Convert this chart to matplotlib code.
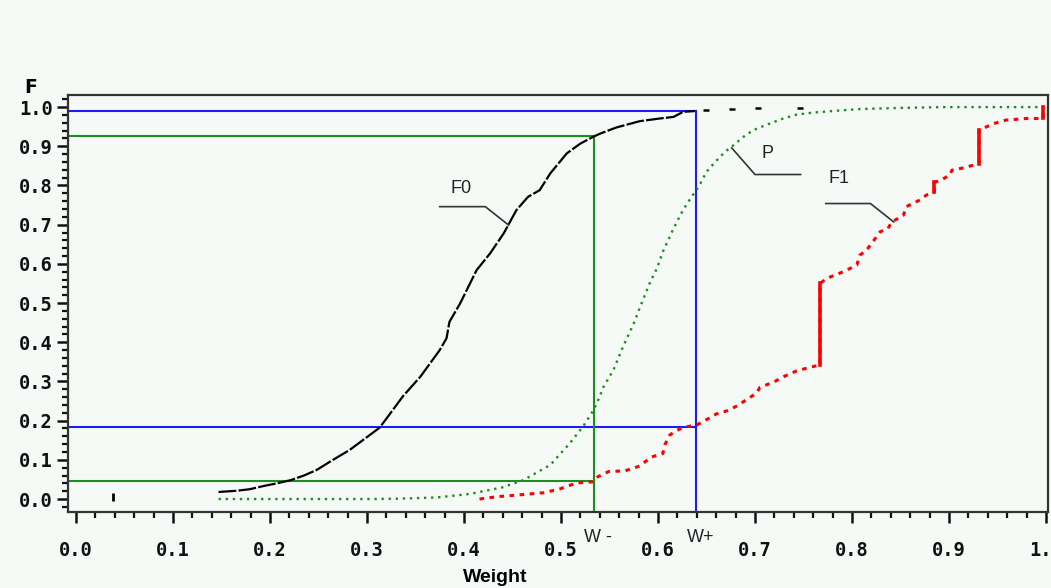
import numpy as np
import matplotlib
matplotlib.use("Agg")
import matplotlib.pyplot as plt
from matplotlib.ticker import MultipleLocator

# ---------------- data ----------------
F0_x = [0.147, 0.165, 0.179, 0.193, 0.207, 0.221, 0.235, 0.248, 0.265, 0.282, 0.300,
        0.313, 0.320, 0.337, 0.355, 0.375, 0.382, 0.385, 0.396, 0.413, 0.427, 0.441,
        0.454, 0.466, 0.478, 0.489, 0.506, 0.520, 0.533, 0.540, 0.557, 0.581, 0.602,
        0.616, 0.626, 0.638]
F0_y = [0.018, 0.021, 0.025, 0.033, 0.040, 0.048, 0.060, 0.074, 0.100, 0.125, 0.158,
        0.182, 0.205, 0.262, 0.312, 0.380, 0.410, 0.452, 0.499, 0.584, 0.627, 0.678,
        0.737, 0.771, 0.788, 0.831, 0.882, 0.907, 0.924, 0.932, 0.948, 0.964, 0.971,
        0.975, 0.988, 0.990]
F0_tail_x = [0.650, 0.676, 0.703, 0.746]
F0_tail_y = [0.992, 0.995, 0.998, 0.998]
stray_x = [0.038]
stray_y = [0.006]

P_x = [0.147, 0.20, 0.25, 0.30, 0.334, 0.372, 0.406, 0.440, 0.461, 0.489, 0.509, 0.523,
       0.533, 0.537, 0.544, 0.554, 0.564, 0.575, 0.583, 0.592, 0.599, 0.605, 0.616,
       0.624, 0.630, 0.636, 0.642, 0.650, 0.659, 0.669, 0.676, 0.688, 0.698, 0.712,
       0.728, 0.743, 0.760, 0.785, 0.808, 0.85, 0.894, 0.94, 0.98, 1.0]
P_y = [0.0, 0.0, 0.0, 0.0, 0.001, 0.004, 0.013, 0.030, 0.048, 0.087, 0.142, 0.186,
       0.225, 0.244, 0.287, 0.329, 0.389, 0.448, 0.499, 0.554, 0.589, 0.631, 0.690,
       0.729, 0.754, 0.776, 0.797, 0.835, 0.860, 0.886, 0.899, 0.924, 0.941, 0.955,
       0.970, 0.981, 0.986, 0.991, 0.995, 0.998, 1.0, 1.0, 1.0, 1.0]

F1_x = [0.416, 0.434, 0.454, 0.482, 0.499, 0.516, 0.533, 0.538, 0.549, 0.566, 0.581,
        0.593, 0.605, 0.607, 0.612, 0.618, 0.626, 0.640, 0.654, 0.660, 0.671, 0.681,
        0.691, 0.702, 0.705, 0.719, 0.731, 0.743, 0.758, 0.767, 0.767, 0.774, 0.791,
        0.805, 0.808, 0.815, 0.824, 0.829, 0.837, 0.841, 0.853, 0.856, 0.870, 0.877,
        0.885, 0.885, 0.892, 0.901, 0.903, 0.915, 0.931, 0.931, 0.946, 0.959, 0.980,
        0.997, 0.997]
F1_y = [0.000, 0.006, 0.010, 0.016, 0.026, 0.041, 0.044, 0.057, 0.070, 0.072, 0.084,
        0.107, 0.116, 0.138, 0.163, 0.173, 0.183, 0.189, 0.208, 0.217, 0.225, 0.237,
        0.253, 0.271, 0.285, 0.298, 0.314, 0.327, 0.337, 0.342, 0.550, 0.563, 0.580,
        0.597, 0.622, 0.635, 0.665, 0.682, 0.690, 0.707, 0.724, 0.746, 0.763, 0.776,
        0.784, 0.808, 0.814, 0.827, 0.839, 0.845, 0.856, 0.941, 0.958, 0.967, 0.971,
        0.971, 1.000]

W_minus = 0.534
W_plus = 0.639
Wm_levels = [0.046, 0.926]   # F(W-) for F1 and F0
Wp_levels = [0.185, 0.990]   # F(W+) for F1 and F0

x_ticks = [0.0, 0.1, 0.2, 0.3, 0.4, 0.5, 0.6, 0.7, 0.8, 0.9, 1.0]
y_ticks = [0.0, 0.1, 0.2, 0.3, 0.4, 0.5, 0.6, 0.7, 0.8, 0.9, 1.0]

labels = ["F0", "P", "F1"]
label_pos = [(0.397, 0.793), (0.713, 0.882), (0.787, 0.818)]
leader_x = [[0.375, 0.422, 0.446], [0.747, 0.700, 0.676], [0.773, 0.819, 0.843]]
leader_y = [[0.746, 0.746, 0.699], [0.828, 0.828, 0.896], [0.754, 0.754, 0.707]]

# ---------------- style ----------------
BG = "#f6faf7"
GREEN = "#1f8c1f"
BLUE = "#1a1aff"
RED = "#ff0000"
SPINE = "#333333"

fig = plt.figure(figsize=(10.51, 5.88), dpi=100, facecolor=BG)
ax = fig.add_axes([0.0647, 0.1293, 0.9324, 0.7092], facecolor=BG)

xmin, xmax = -0.0082, 1.002
ymin, ymax = -0.033, 1.031
ax.set_xlim(xmin, xmax)
ax.set_ylim(ymin, ymax)

# reference lines
ax.plot([W_plus, W_plus], [ymin, Wp_levels[1]], color=BLUE, lw=1.5, zorder=2)
for lv in Wp_levels:
    ax.plot([xmin, W_plus], [lv, lv], color=BLUE, lw=1.5, zorder=2)
ax.plot([W_minus, W_minus], [ymin, Wm_levels[1]], color=GREEN, lw=1.5, zorder=2)
for lv in Wm_levels:
    ax.plot([xmin, W_minus], [lv, lv], color=GREEN, lw=1.5, zorder=2)

# curves
ax.plot(P_x, P_y, color=GREEN, lw=1.7, ls=(0, (1, 2.0)), zorder=3)
ax.plot(F0_x, F0_y, color="black", lw=1.6, ls=(0, (8, 1)), zorder=4)
ax.plot(F0_tail_x, F0_tail_y, ls="none", marker="_", ms=5, mew=1.8, color="black", zorder=4)
ax.plot(stray_x, stray_y, ls="none", marker="|", ms=6, mew=2, color="black", zorder=4)

ax.plot(F1_x, F1_y, color=RED, lw=2.2, ls=(0, (1.5, 1.8)), zorder=4)
for i in range(1, len(F1_x)):
    if F1_x[i] == F1_x[i - 1]:
        ax.plot([F1_x[i], F1_x[i]], [F1_y[i - 1], F1_y[i]], color=RED, lw=2.6, zorder=4)

# leaders and labels
for lab, (tx, ty), lx, ly in zip(labels, label_pos, leader_x, leader_y):
    ax.plot(lx, ly, color="#333333", lw=1.2, zorder=5)
    ax.text(tx, ty, lab, ha="center", va="center", fontsize=13,
            family="Liberation Sans", color="#222222", zorder=6)

# W- / W+ labels below axis
trans = matplotlib.transforms.blended_transform_factory(ax.transData, ax.transAxes)
ax.text(W_minus + 0.004, -0.062, "W -", transform=trans, ha="center", va="center",
        fontsize=13, family="Liberation Sans", color="#222222")
ax.text(W_plus + 0.005, -0.062, "W+", transform=trans, ha="center", va="center",
        fontsize=13, family="Liberation Sans", color="#222222")

# spines / ticks
for s in ax.spines.values():
    s.set_color(SPINE)
    s.set_linewidth(1.6)

ax.set_xticks(x_ticks)
ax.set_yticks(y_ticks)
ax.set_xticklabels([f"{v:.1f}" for v in x_ticks])
ax.set_yticklabels([f"{v:.1f}" for v in y_ticks])
ax.xaxis.set_minor_locator(MultipleLocator(0.02))
ax.yaxis.set_minor_locator(MultipleLocator(0.02))
ax.tick_params(axis="both", which="major", direction="out", color="#111111",
               width=1.8, length=8)
ax.tick_params(axis="both", which="minor", direction="out", color="#111111",
               width=1.6, length=4)
ax.tick_params(axis="x", which="major", pad=13)
ax.tick_params(axis="y", which="major", pad=3)
for lbl in ax.get_xticklabels() + ax.get_yticklabels():
    lbl.set_family("DejaVu Sans Mono")
    lbl.set_fontweight("bold")
    lbl.set_fontsize(13.5)
    lbl.set_color("#111111")

fig.text(31 / 1051, 1 - 88 / 588, "F", ha="center", va="center", fontsize=13.5,
         fontweight="bold", family="DejaVu Sans")
fig.text(495 / 1051, 1 - 577 / 588, "Weight", ha="center", va="center", fontsize=14,
         fontweight="bold", family="Liberation Sans")

fig.savefig("out.png", dpi=100, facecolor=BG)
